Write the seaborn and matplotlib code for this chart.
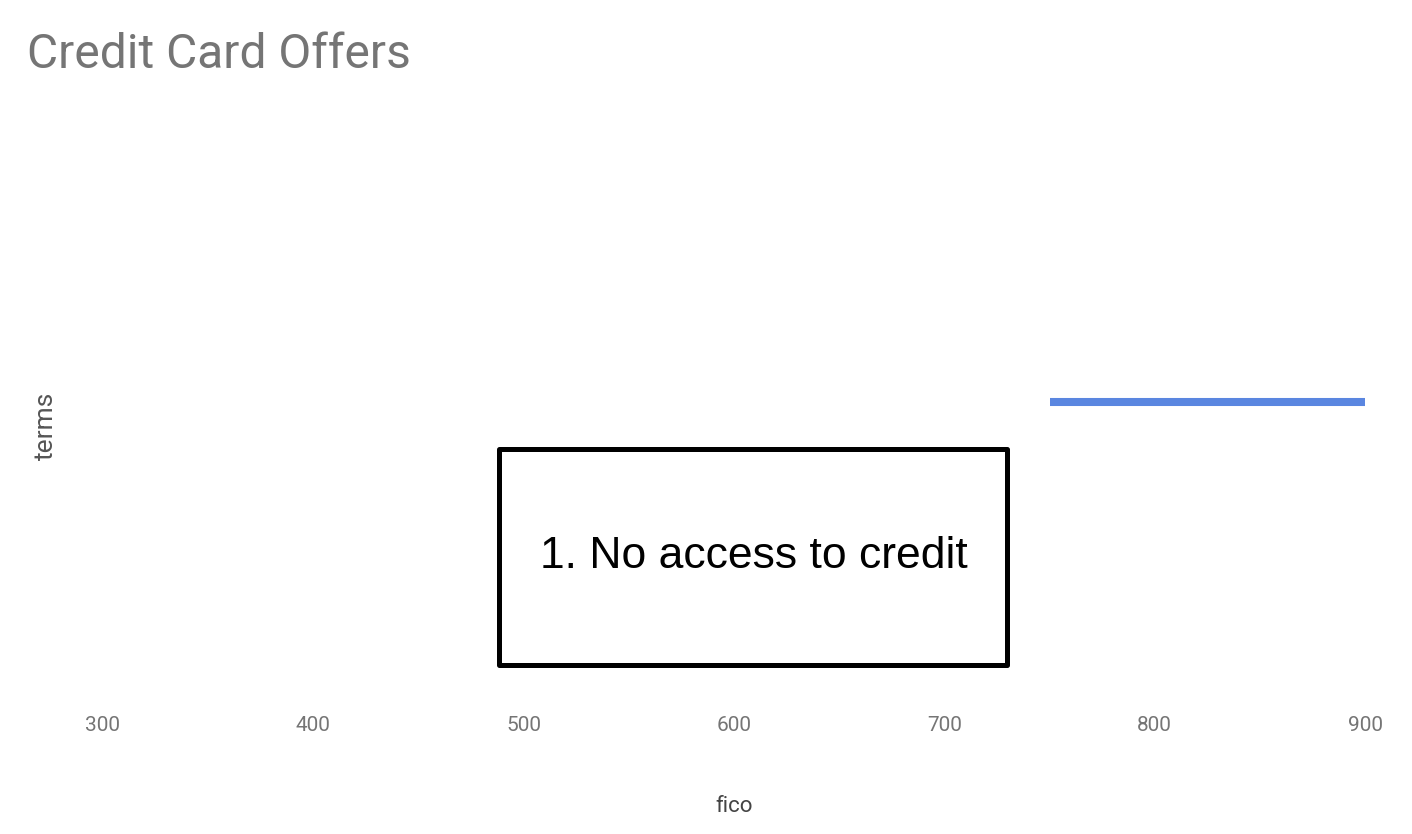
#!/usr/bin/env python3
"""Credit Card Offers - terms vs fico, with a 'no access' callout box."""

import matplotlib.pyplot as plt
import pandas as pd
import seaborn as sns
from matplotlib.patches import Rectangle

# data
fico = [750, 900]
terms = [0.5, 0.5]
x_ticks = [300, 400, 500, 600, 700, 800, 900]

# callout box (data coords) and its text
box_fico = (488.5, 730)
box_terms = (0.043, 0.419)
box_text = "1. No access to credit"

LINE_COLOR = "#5a86e0"
GRAY = "#757575"

sns.set_theme(style="white")
plt.rcParams["font.family"] = ["Roboto", "DejaVu Sans"]

df = pd.DataFrame({"fico": fico, "terms": terms})

fig = plt.figure(figsize=(14.12, 8.34), dpi=100)
W, H = 1412, 834
ax = fig.add_axes([103 / W, 1 - 690 / H, (1365 - 103) / W, (690 - 114) / H])

sns.lineplot(data=df, x="fico", y="terms", ax=ax, color=LINE_COLOR,
             linewidth=5.8, solid_capstyle="butt")

ax.set_xlim(300, 900)
ax.set_ylim(0, 1)
ax.set_xticks(x_ticks)
ax.set_xticklabels([str(v) for v in x_ticks])
ax.set_yticks([])
ax.tick_params(axis="x", length=0, pad=19, labelsize=15, labelcolor=GRAY)
for s in ax.spines.values():
    s.set_visible(False)

ax.set_xlabel("fico", fontsize=16, color="#444444", labelpad=44)
ax.set_ylabel("terms", fontsize=19, color="#555555")
ax.yaxis.set_label_coords(-0.036, 0.458)

fig.text(27 / W, 1 - 55 / H, "Credit Card Offers", fontsize=34.5, color=GRAY,
         ha="left", va="center")

# callout box
ax.add_patch(Rectangle((box_fico[0], box_terms[0]),
                       box_fico[1] - box_fico[0], box_terms[1] - box_terms[0],
                       fill=False, edgecolor="black", linewidth=3.6,
                       joinstyle="round", zorder=3))
ax.text(sum(box_fico) / 2, sum(box_terms) / 2, box_text,
        family=["Liberation Sans", "DejaVu Sans"], fontsize=32,
        color="black", ha="center", va="center", zorder=4)

fig.savefig("out.png", dpi=100)
plt.close(fig)
